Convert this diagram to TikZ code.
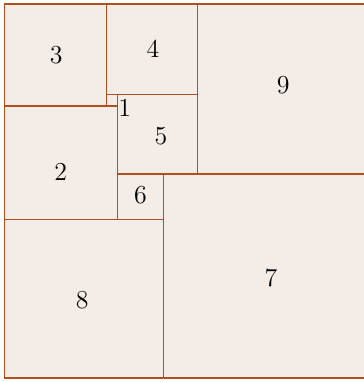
\documentclass[tikz,border=0pt]{standalone}
\begin{document}
\begin{tikzpicture}[x=0.2cm,y=0.2cm,
  sq/.style={draw=sqline,fill=sqfill,line width=0.55pt},
  num/.style={font=\fontsize{13}{15}\selectfont,inner sep=0pt}]
\definecolor{sqline}{HTML}{B0501F}
\definecolor{sqfill}{HTML}{F4ECE7}
\useasboundingbox (-0.40,-0.353) rectangle (31.70,33.353);
\draw[sq] (0,0) rectangle (14,14);
\draw[sq] (14,0) rectangle (32,18);
\draw[sq] (17,18) rectangle (32,33);
\draw[sq] (0,24) rectangle (9,33);
\draw[sq] (9,25) rectangle (17,33);
\draw[sq] (0,14) rectangle (10,24);
\draw[sq] (10,18) rectangle (17,25);
\draw[sq] (10,14) rectangle (14,18);
\draw[sq] (9,24) rectangle (10,25);
\node[num] (n3) at (4.55,28.5) {3};
\node[num] (n4) at (13.1,29.05) {4};
\node[num] (n9) at (24.6,25.85) {9};
\node[num] (n5) at (13.8,21.3) {5};
\node[num] (n1) at (10.6,23.8) {1};
\node[num] (n6) at (12.0,16.15) {6};
\node[num] (n2) at (4.95,18.2) {2};
\node[num] (n7) at (23.5,8.8) {7};
\node[num] (n8) at (6.85,6.9) {8};
\end{tikzpicture}
\end{document}
